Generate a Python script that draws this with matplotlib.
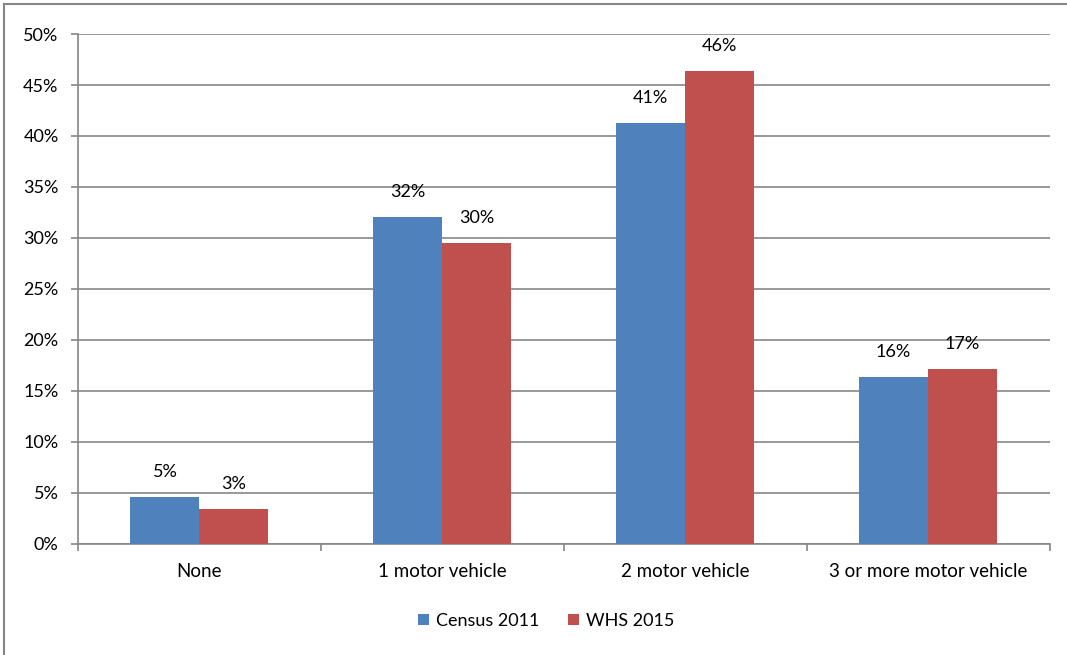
import numpy as np
import matplotlib
matplotlib.use('Agg')
from matplotlib import pyplot as plt
from matplotlib.lines import Line2D
from matplotlib.ticker import FuncFormatter, MultipleLocator

plt.rcParams['font.family'] = ['Lato', 'DejaVu Sans']

categories = ['None', '1 motor vehicle', '2 motor vehicle', '3 or more motor vehicle']
census_2011 = [4.6, 32.0, 41.3, 16.3]
whs_2015 = [3.4, 29.5, 46.4, 17.1]
series_names = ['Census 2011', 'WHS 2015']

blue = '#4F81BD'
red = '#C0504D'
grid_c = '#868686'
fs = 13

fig = plt.figure(figsize=(10.67, 6.55), dpi=100)
ax = fig.add_axes([0.0731, 0.1702, 0.9105, 0.7778])

x = np.arange(len(categories))
w = 0.284
b1 = ax.bar(x - w / 2, census_2011, w, color=blue, label=series_names[0], zorder=3)
b2 = ax.bar(x + w / 2, whs_2015, w, color=red, label=series_names[1], zorder=3)

# value labels above each bar
for bars, vals in ((b1, census_2011), (b2, whs_2015)):
    for rect, v in zip(bars, vals):
        ax.annotate('%d%%' % round(v), (rect.get_x() + rect.get_width() / 2, v),
                    xytext=(0, 18), textcoords='offset points',
                    ha='center', va='center', fontsize=fs, color='black')

ax.set_xlim(-0.5, len(categories) - 0.5)
ax.set_ylim(0, 50)
ax.yaxis.set_major_locator(MultipleLocator(5))
ax.yaxis.set_major_formatter(FuncFormatter(lambda v, p: '%d%%' % v))
ax.set_xticks(x)
ax.set_xticklabels(categories, fontsize=13.5)
ax.set_xticks(np.arange(-0.5, len(categories)), minor=True)
ax.tick_params(axis='x', which='major', length=0, pad=14)
ax.tick_params(axis='x', which='minor', length=5, color=grid_c, width=1.2)
ax.tick_params(axis='y', length=5, color=grid_c, width=1.2, labelsize=fs, pad=9)

ax.grid(axis='y', color=grid_c, linewidth=1.2, zorder=0)
for s in ('top', 'right'):
    ax.spines[s].set_visible(False)
for s in ('left', 'bottom'):
    ax.spines[s].set_color(grid_c)
    ax.spines[s].set_linewidth(1.2)

fig.legend(handles=[b1, b2], loc='center', bbox_to_anchor=(0.512, 0.052), ncol=2,
           frameon=False, fontsize=fs, handlelength=0.6, handleheight=0.6,
           handletextpad=0.4, columnspacing=1.6)

# outer chart border (left and top visible)
fig.add_artist(Line2D([4 / 1067, 4 / 1067], [0, 1 - 4 / 655], transform=fig.transFigure,
                      color=grid_c, linewidth=1.5))
fig.add_artist(Line2D([4 / 1067, 1], [1 - 4 / 655, 1 - 4 / 655], transform=fig.transFigure,
                      color=grid_c, linewidth=1.5))

fig.savefig('out.png', dpi=100)
